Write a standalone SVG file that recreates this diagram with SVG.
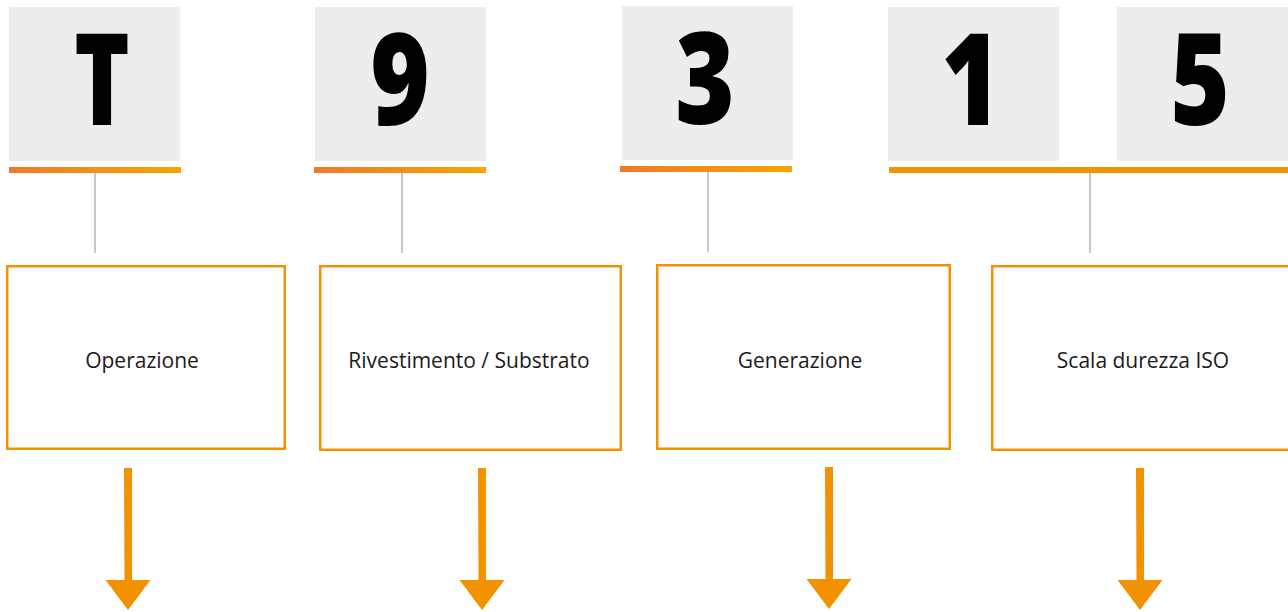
<svg xmlns="http://www.w3.org/2000/svg" width="1288" height="612" viewBox="0 0 1288 612">
<defs>
<linearGradient id="bar" x1="0" y1="0" x2="1" y2="0">
<stop offset="0" stop-color="#ef7a2a"/>
<stop offset="1" stop-color="#f7a500"/>
</linearGradient>
<style>
.tile{fill:#ededed}
.digit{font-family:"Open Sans",sans-serif;font-weight:800;font-size:127px;fill:#000;text-anchor:middle}
.box{fill:#fff;stroke:#f39200;stroke-width:2.5}
.lbl{font-family:"Open Sans",sans-serif;font-size:21px;fill:#1a1a1a;text-anchor:middle}
.stem{stroke:#c8c8c8;stroke-width:2;fill:none}
.arrow{fill:#f39200}
</style>
</defs>
<rect width="1288" height="612" fill="#fff"/>
<g id="code-T">
<rect class="tile" x="9" y="7" width="171" height="154"/>
<text class="digit" transform="translate(102,125) scale(0.74,1)">T</text>
<rect x="9" y="167" width="172" height="6" fill="url(#bar)"/>
</g>
<g id="code-9">
<rect class="tile" x="315" y="7" width="171" height="154"/>
<text class="digit" transform="translate(400,125) scale(0.8,1)">9</text>
<rect x="314" y="167" width="172" height="6" fill="url(#bar)"/>
</g>
<g id="code-3">
<rect class="tile" x="622" y="6" width="171" height="154"/>
<text class="digit" transform="translate(705,124) scale(0.8,1)">3</text>
<rect x="620" y="166" width="172" height="6" fill="url(#bar)"/>
</g>
<g id="code-1">
<rect class="tile" x="888" y="7" width="171" height="154"/>
<text class="digit" transform="translate(971,125) scale(0.8,1)">1</text>
</g>
<g id="code-5">
<rect class="tile" x="1117" y="7" width="171" height="154"/>
<text class="digit" transform="translate(1200,125) scale(0.8,1)">5</text>
</g>
<g id="code-15-bar">
<rect x="889" y="167" width="399" height="6" fill="#f39200"/>
</g>
<g id="box-operazione">
<rect class="box" x="7.25" y="266.25" width="277.5" height="182.5"/>
<text class="lbl" x="142" y="368">Operazione</text>
</g>
<g id="box-rivestimento">
<rect class="box" x="320.25" y="266.25" width="300.5" height="183.5"/>
<text class="lbl" x="469" y="368">Rivestimento / Substrato</text>
</g>
<g id="box-generazione">
<rect class="box" x="657.25" y="265.25" width="292.5" height="183.5"/>
<text class="lbl" x="800" y="368">Generazione</text>
</g>
<g id="box-scala">
<rect class="box" x="992.25" y="266.25" width="300" height="183.5"/>
<text class="lbl" x="1143" y="368">Scala durezza ISO</text>
</g>
<g id="connectors">
<line class="stem" x1="95" y1="173" x2="95" y2="253"/>
<line class="stem" x1="402" y1="173" x2="402" y2="253"/>
<line class="stem" x1="708" y1="172" x2="708" y2="252"/>
<line class="stem" x1="1090" y1="173" x2="1090" y2="253"/>
<path class="arrow" d="M124 468h8v112h18.5l-22.5 30l-22.5-30h19z"/>
<path class="arrow" d="M478 468h8v112h18.5l-22.5 30l-22.5-30h19z"/>
<path class="arrow" d="M825 467h8v112h18.5l-22.5 30l-22.5-30h19z"/>
<path class="arrow" d="M1136 468h8v112h18.5l-22.5 30l-22.5-30h19z"/>
</g>
</svg>
